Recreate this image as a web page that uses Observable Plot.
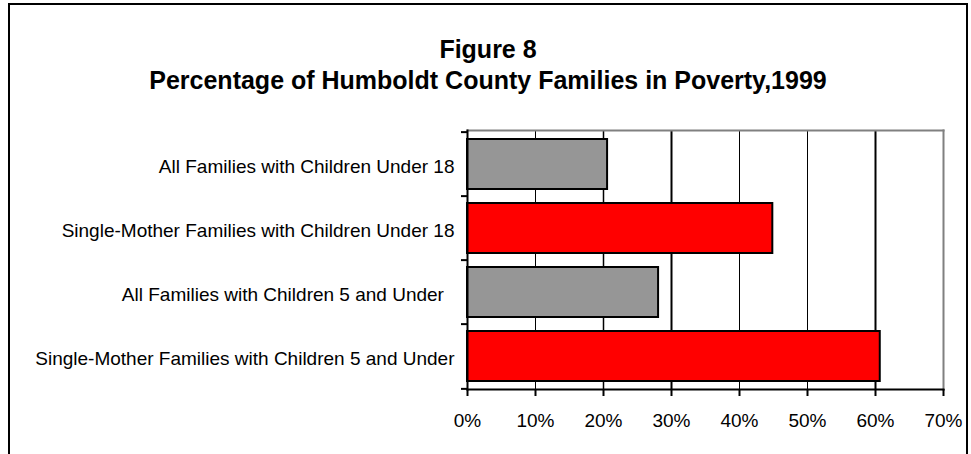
<!DOCTYPE html>
<html>
<head>
<meta charset="utf-8">
<script src="https://cdn.jsdelivr.net/npm/d3@7"></script>
<script src="https://cdn.jsdelivr.net/npm/@observablehq/plot@0.6"></script>
<style>
  html, body { margin: 0; padding: 0; background: #fff; }
  #wrap { position: relative; width: 971px; height: 454px; overflow: hidden; background: #fff; }
  #border { position: absolute; left: 8px; top: 3px; width: 956px; height: 600px; border: 2px solid #000; box-sizing: content-box; }
  .title { position: absolute; left: 10px; width: 956px; text-align: center; font-family: "Liberation Sans", Arial, sans-serif; font-weight: bold; font-size: 25px; line-height: 25px; color: #000; white-space: nowrap; }
  #t1 { top: 37px; }
  #t2 { top: 68px; }
  #chart { position: absolute; left: 0; top: 0; }
</style>
</head>
<body>
<div id="wrap">
  <div id="border"></div>
  <div class="title" id="t1">Figure 8</div>
  <div class="title" id="t2">Percentage of Humboldt County Families in Poverty,1999</div>
  <div id="chart"></div>
</div>
<script>
// Data
const categories = [
  "All Families with Children Under 18",
  "Single-Mother Families with Children Under 18",
  "All Families with Children 5 and Under\u00A0\u00A0",
  "Single-Mother Families with Children 5 and Under"
];
const percents = [20.6, 44.9, 28.1, 60.7];
const groups = ["All Families", "Single-Mother", "All Families", "Single-Mother"];
const xTicks = [0, 10, 20, 30, 40, 50, 60, 70];

const data = categories.map((c, i) => ({category: c, value: percents[i], group: groups[i]}));

const W = 971, H = 454;
const mTop = 130, mBottom = 65, mLeft = 467, mRight = 28;
const halfStep = (H - mTop - mBottom) / categories.length / 2;

const chart = Plot.plot({
  width: W,
  height: H,
  marginTop: mTop,
  marginBottom: mBottom,
  marginLeft: mLeft,
  marginRight: mRight,
  style: {fontFamily: "'Liberation Sans', Arial, sans-serif", fontSize: "19px", color: "#000", background: "transparent"},
  x: {domain: [0, 70], label: null},
  y: {domain: categories, padding: 0, label: null},
  color: {domain: ["All Families", "Single-Mother"], range: ["#969696", "#ff0000"]},
  marks: [
    Plot.ruleX(xTicks.filter(d => d > 0 && d < 70), {
      stroke: "#000",
      strokeWidth: d => (d === 30 || d === 60) ? 2 : (d === 20 ? 1.5 : 1)
    }),
    Plot.frame({anchor: "top", stroke: "#808080", strokeWidth: 2}),
    Plot.frame({anchor: "right", stroke: "#808080", strokeWidth: 2}),
    Plot.barX(data, {
      x: "value", y: "category", fill: "group",
      stroke: "#000", strokeWidth: 2, insetTop: 7, insetBottom: 7
    }),
    Plot.frame({anchor: "left", stroke: "#000", strokeWidth: 2}),
    Plot.frame({anchor: "bottom", stroke: "#000", strokeWidth: 2}),
    Plot.axisX({ticks: xTicks, tickFormat: d => d + "%", tickSize: 7, tickPadding: 17, strokeWidth: 2, fontSize: 19, label: null}),
    Plot.axisY({tickSize: 0, tickPadding: 13, fontSize: 19, dy: 2, label: null}),
    Plot.axisY({text: null, tickSize: 6, strokeWidth: 2, dy: -halfStep, label: null}),
    Plot.axisY({ticks: [categories[categories.length - 1]], text: null, tickSize: 6, strokeWidth: 2, dy: halfStep, label: null})
  ]
});
document.getElementById("chart").appendChild(chart);
</script>
</body>
</html>
